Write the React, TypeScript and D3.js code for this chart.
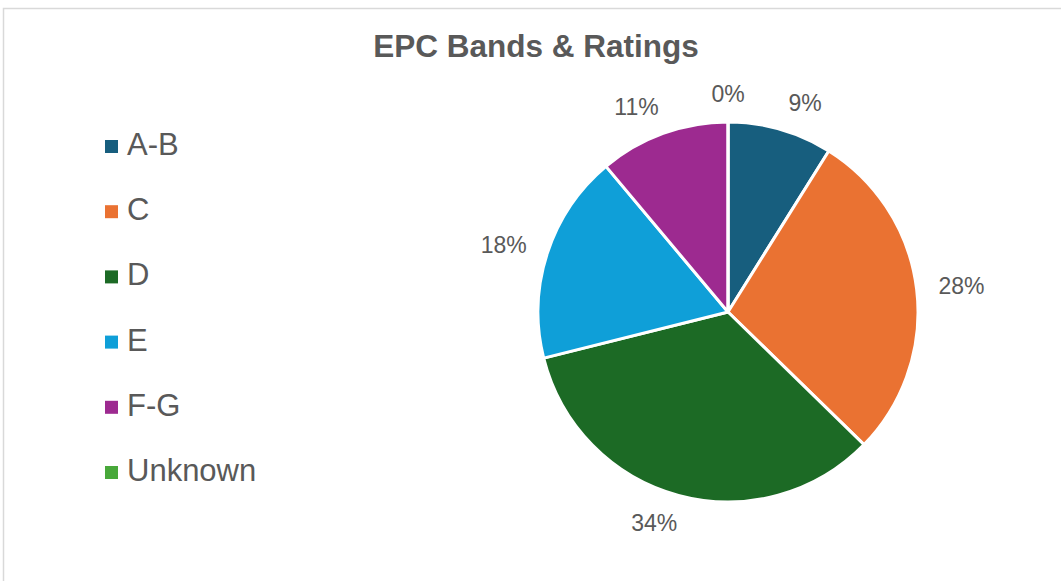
import React from "react";
import * as d3 from "d3";

const categories = ["A-B", "C", "D", "E", "F-G", "Unknown"];
const values = [8.9, 28.4, 33.8, 17.8, 11.1, 0.0];
const colors = ["#175e7e", "#ea7232", "#1c6a25", "#0f9fd8", "#9d2a90", "#48a83a"];
const title = "EPC Bands & Ratings";

const W = 1061;
const H = 581;
const FONT = "'Liberation Sans', Arial, Helvetica, sans-serif";
const TEXT = "#595959";

export default function App() {
  const cx = 728;
  const cy = 312;
  const r = 190;
  const labelR = 218;

  const pie = d3
    .pie<number>()
    .sort(null)
    .value((d) => d)
    .startAngle(0)
    .endAngle(2 * Math.PI);
  const arcs = pie(values);
  const arc = d3.arc<d3.PieArcDatum<number>>().innerRadius(0).outerRadius(r);
  const total = d3.sum(values);

  const legendY = d3
    .scalePoint<string>()
    .domain(categories)
    .range([155, 481]);

  return (
    <div style={{ position: "absolute", left: 0, top: 0, width: W, height: H, overflow: "hidden", background: "#fff" }}>
      <svg width={W} height={H} style={{ display: "block" }}>
        <rect x={3.5} y={8.5} width={W + 20} height={H + 20} fill="#fff" stroke="#d9d9d9" strokeWidth={1.5} />
        <text
          x={536}
          y={57}
          textAnchor="middle"
          fontFamily={FONT}
          fontWeight="bold"
          fontSize={31.5}
          fill={TEXT}
        >
          {title}
        </text>
        <g transform={`translate(${cx},${cy})`}>
          {arcs.map((a, i) => (
            <path key={i} d={arc(a) || ""} fill={colors[i]} stroke="#fff" strokeWidth={3} strokeLinejoin="round" />
          ))}
          {arcs.map((a, i) => {
            const mid = (a.startAngle + a.endAngle) / 2;
            const s = Math.sin(mid);
            const c = Math.cos(mid);
            const push = Math.abs(s) < 1e-6 ? 0 : Math.sign(s) * 17;
            const x = labelR * s + push;
            const y = -labelR * c;
            const pct = Math.round((values[i] / total) * 100);
            return (
              <text
                key={"l" + i}
                x={x}
                y={y}
                dy="0.36em"
                textAnchor="middle"
                fontFamily={FONT}
                fontSize={23}
                fill={TEXT}
              >
                {pct + "%"}
              </text>
            );
          })}
        </g>
        <g>
          {categories.map((c, i) => {
            const by = legendY(c) as number;
            return (
              <g key={c}>
                <rect x={105} y={by - 15} width={13} height={13} fill={colors[i]} />
                <text x={127} y={by} fontFamily={FONT} fontSize={31} fill={TEXT}>
                  {c}
                </text>
              </g>
            );
          })}
        </g>
      </svg>
    </div>
  );
}
